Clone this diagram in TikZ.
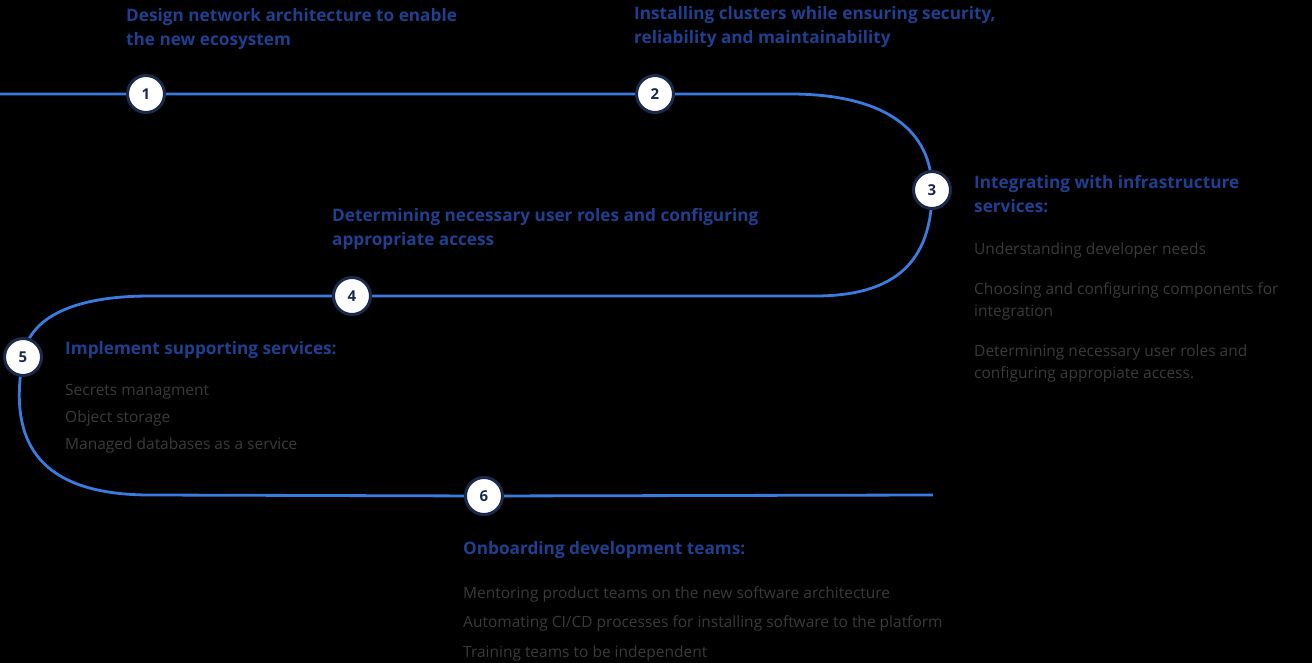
\documentclass[tikz,border=0pt]{standalone}
\usepackage{fontspec}
\setmainfont{Open Sans}
\usetikzlibrary{backgrounds}
\definecolor{pathblue}{HTML}{3A7BE0}
\definecolor{navy}{HTML}{1B2A4A}
\definecolor{headblue}{HTML}{1F3F8F}
\definecolor{bodygray}{HTML}{3A3A3A}
\tikzset{
  stepdot/.style={circle, draw=navy, line width=3pt, fill=white, minimum size=37pt,
    inner sep=0pt, text=navy, font=\fontsize{15}{15}\selectfont\bfseries},
  head/.style={anchor=west, text=headblue, align=left, inner sep=0pt,
    font=\fontsize{17.2}{24}\selectfont\bfseries},
  body/.style={anchor=west, text=bodygray, align=left, inner sep=0pt,
    font=\fontsize{15.5}{22}\selectfont},
}
\begin{document}
\begin{tikzpicture}[x=1pt, y=-1pt]
  \useasboundingbox (0,0) rectangle (1312,663);

  % steps
  \node[stepdot] (n1) at (146,94) {1};
  \node[stepdot] (n2) at (655,94) {2};
  \node[stepdot] (n3) at (932,190) {3};
  \node[stepdot] (n4) at (352,296) {4};
  \node[stepdot] (n5) at (23,357) {5};
  \node[stepdot] (n6) at (484,496) {6};
  \coordinate (start) at (0,94);
  \coordinate (finish) at (933,495);

  \begin{scope}[on background layer]
    \fill[black] (0,0) rectangle (1312,663);
    \draw[pathblue, line width=2.8pt]
      (start) -- (n1.center) -- (n2.center) -- (790,94)
      .. controls (885,94) and (932,130) .. (n3.center)
      .. controls (932,262) and (895,296) .. (815,296)
      -- (n4.center) -- (150,296)
      .. controls (65,296) and (28,322) .. (n5.center)
      .. controls (12,420) and (18,495) .. (150,495)
      -- (n6.center) -- (finish);
  \end{scope}

  % texts
  \node[head] at (126,29) {Design network architecture to enable\\the new ecosystem};
  \node[head] at (634,27) {Installing clusters while ensuring security,\\reliability and maintainability};
  \node[head] at (974,194) {Integrating with infrastructure\\services:};
  \node[body] at (974,250) {Understanding developer needs};
  \node[body] at (974,301) {Choosing and configuring components for\\integration};
  \node[body] at (974,363) {Determining necessary user roles and\\configuring appropiate access.};
  \node[head] at (332,229) {Determining necessary user roles and configuring\\appropriate access};
  \node[head] at (65,350) {Implement supporting services:};
  \node[body] at (65,392) {Secrets managment};
  \node[body] at (65,418) {Object storage};
  \node[body] at (65,445) {Managed databases as a service};
  \node[head] at (463,550) {Onboarding development teams:};
  \node[body] at (463,594) {Mentoring product teams on the new software architecture};
  \node[body] at (463,623) {Automating CI/CD processes for installing software to the platform};
  \node[body] at (463,653) {Training teams to be independent};
\end{tikzpicture}
\end{document}
